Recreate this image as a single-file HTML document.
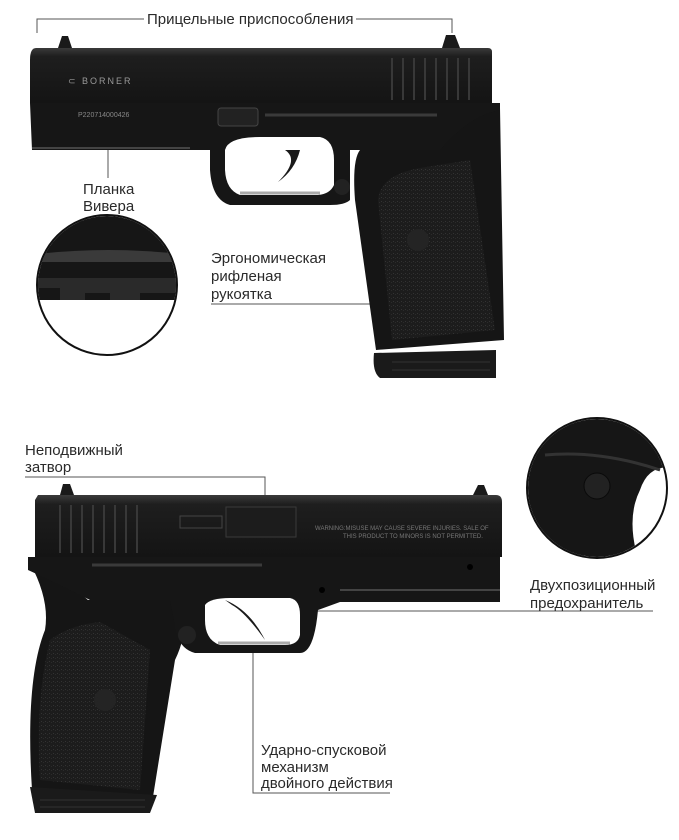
<!DOCTYPE html>
<html><head><meta charset="utf-8"><style>
html,body{margin:0;padding:0;background:#fff;}
svg{display:block}
text{font-family:"Liberation Sans Narrow","Liberation Sans",sans-serif;font-size:15px;fill:#2a2a2a}
</style></head><body>
<svg width="679" height="840" viewBox="0 0 679 840" xmlns="http://www.w3.org/2000/svg">
<defs>
<linearGradient id="sl" x1="0" y1="0" x2="0" y2="1"><stop offset="0" stop-color="#3a3a3a"/><stop offset="0.15" stop-color="#1e1e1e"/><stop offset="1" stop-color="#141414"/></linearGradient>
<pattern id="tx" width="4" height="4" patternUnits="userSpaceOnUse"><rect width="4" height="4" fill="#1c1c1c"/><rect x="1" y="1" width="1" height="1" fill="#333"/><rect x="3" y="2" width="1" height="1" fill="#2b2b2b"/></pattern>
</defs>

<!-- ===== TOP PISTOL ===== -->
<g stroke="#555" stroke-width="1" fill="none">
<path d="M37 33 V19 H144"/><path d="M356 19 H452 V33"/>
<path d="M108 150 V178"/>
<path d="M211 304 H415"/>
</g>
<text x="147" y="24">Прицельные приспособления</text>
<text x="83" y="194">Планка</text><text x="83" y="211">Вивера</text>
<text x="211" y="263">Эргономическая</text><text x="211" y="281">рифленая</text><text x="211" y="299">рукоятка</text>

<!-- sights -->
<path d="M58 48 L62 36 L68 36 L72 48Z" fill="#1a1a1a"/>
<path d="M442 48 L446 35 L455 35 L460 48Z" fill="#1a1a1a"/>
<!-- grip -->
<path d="M437 150 Q470 115 500 108 L504 340 L376 350 L355 200 Q352 160 360 150Z" fill="#151515"/>
<path d="M378 200 Q380 175 420 168 L470 160 L495 330 L392 340Z" fill="url(#tx)"/>
<circle cx="418" cy="240" r="11" fill="#242424"/>
<path d="M374 353 L496 350 L496 378 L380 378 Q372 372 374 353Z" fill="#1a1a1a"/>
<path d="M392 362 H490 M392 370 H490" stroke="#333"/>
<!-- frame -->
<path d="M30 103 H500 L500 110 Q470 115 440 150 L350 150 L350 200 Q345 205 330 205 L230 205 Q212 200 210 170 L210 150 L32 150 Z" fill="#161616"/>
<path d="M225 150 Q228 137 260 137 L320 137 Q334 140 334 160 L334 185 Q330 194 318 195 L240 195 Q226 190 225 170Z" fill="#fff"/>
<path d="M240 193 L320 193" stroke="#aaa" stroke-width="3"/>
<path d="M285 150 Q300 160 278 182 Q295 170 300 150Z" fill="#1a1a1a"/>
<circle cx="342" cy="187" r="8" fill="#222"/>
<path d="M32 148 H190" stroke="#444" stroke-width="2"/>
<!-- slide -->
<path d="M36 48 H488 Q492 48 492 52 V103 H30 V60 Q30 48 36 48Z" fill="url(#sl)"/>
<g stroke="#383838" stroke-width="2"><path d="M392 58 V100 M403 58 V100 M414 58 V100 M425 58 V100 M436 58 V100 M447 58 V100 M458 58 V100 M469 58 V100"/></g>
<text x="68" y="84" style="font-size:9px;fill:#999;letter-spacing:2px">⊂ BORNER</text>
<text x="78" y="117" style="font-size:7px;fill:#888">P220714000426</text>
<rect x="218" y="108" width="40" height="18" rx="3" fill="#222" stroke="#444"/>
<path d="M265 115 H437" stroke="#3a3a3a" stroke-width="3"/>

<!-- circle inset top -->
<circle cx="107" cy="285" r="70" fill="#fff" stroke="#111" stroke-width="2"/>
<clipPath id="c1"><circle cx="107" cy="285" r="69"/></clipPath>
<g clip-path="url(#c1)">
<rect x="30" y="210" width="160" height="90" fill="#161616"/>
<path d="M30 255 Q107 245 190 255 V262 H30Z" fill="#3a3a3a"/>
<path d="M30 288 H60 V300 H85 V293 H110 V300 H140 V293 H190 V278 H30Z" fill="#2a2a2a"/>
</g>

<!-- ===== BOTTOM PISTOL ===== -->
<g stroke="#555" stroke-width="1" fill="none">
<path d="M25 477 H265 V498"/>
<path d="M235 611 H653"/>
<path d="M253 611 V793 H390"/>
</g>
<text x="25" y="455">Неподвижный</text><text x="25" y="472">затвор</text>
<text x="530" y="590">Двухпозиционный</text><text x="530" y="608">предохранитель</text>
<text x="261" y="755">Ударно-спусковой</text><text x="261" y="772">механизм</text><text x="261" y="788">двойного действия</text>

<!-- grip -->
<path d="M30 563 Q60 575 88 600 L190 600 Q185 640 175 660 L152 803 L32 790 Q25 680 45 630 Q50 600 30 563Z" fill="#151515"/>
<path d="M50 640 Q70 625 100 622 L150 650 L140 790 L40 780 Q35 700 50 640Z" fill="url(#tx)"/>
<circle cx="105" cy="700" r="11" fill="#242424"/>
<path d="M30 787 L157 795 L150 813 L35 813Z" fill="#1a1a1a"/>
<path d="M40 800 H145 M40 807 H145" stroke="#333"/>
<!-- frame -->
<path d="M28 557 H500 V602 L340 602 L318 610 Q314 653 300 653 L195 653 Q176 648 174 620 L170 600 L90 600 Q50 580 28 570Z" fill="#161616"/>
<path d="M205 605 Q210 598 230 598 L290 598 Q300 600 300 615 L300 635 Q298 645 285 645 L220 645 Q205 640 205 620Z" fill="#fff"/>
<path d="M218 643 H290" stroke="#aaa" stroke-width="3"/>
<path d="M225 600 Q250 610 265 640 Q245 612 232 605Z" fill="#1a1a1a"/>
<circle cx="187" cy="635" r="9" fill="#222"/>
<path d="M92 565 H262" stroke="#3a3a3a" stroke-width="3"/>
<path d="M340 590 H500" stroke="#444" stroke-width="2"/>
<circle cx="322" cy="590" r="3" fill="#000"/><circle cx="470" cy="567" r="3" fill="#000"/>
<!-- sights -->
<path d="M60 495 L63 484 L70 484 L74 495Z" fill="#1a1a1a"/>
<path d="M473 495 L478 485 L484 485 L488 495Z" fill="#1a1a1a"/>
<!-- slide -->
<path d="M38 495 H496 Q502 495 502 502 V557 H35 V500Z" fill="url(#sl)"/>
<g stroke="#383838" stroke-width="2"><path d="M60 505 V553 M71 505 V553 M82 505 V553 M93 505 V553 M104 505 V553 M115 505 V553 M126 505 V553 M137 505 V553"/></g>
<rect x="226" y="507" width="70" height="30" fill="#1c1c1c" stroke="#3a3a3a"/>
<rect x="180" y="516" width="42" height="12" fill="none" stroke="#444"/>
<text x="315" y="530" style="font-size:6px;fill:#777">WARNING:MISUSE MAY CAUSE SEVERE INJURIES. SALE OF</text>
<text x="343" y="538" style="font-size:6px;fill:#777">THIS PRODUCT TO MINORS IS NOT PERMITTED.</text>

<!-- circle inset right -->
<circle cx="597" cy="488" r="70" fill="#fff" stroke="#111" stroke-width="2"/>
<clipPath id="c2"><circle cx="597" cy="488" r="69"/></clipPath>
<g clip-path="url(#c2)">
<path d="M520 410 H680 V470 Q650 460 640 490 Q625 520 640 565 L520 565Z" fill="#161616"/>
<path d="M545 455 Q600 450 660 470" stroke="#333" stroke-width="3" fill="none"/>
<circle cx="597" cy="486" r="13" fill="#222" stroke="#0a0a0a"/>
</g>
</svg>
</body></html>
